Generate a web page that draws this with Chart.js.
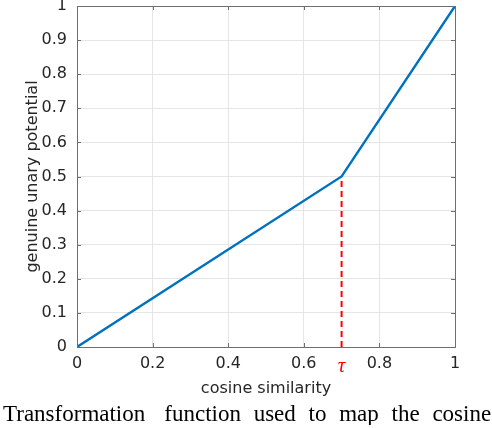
<!DOCTYPE html>
<html>
<head>
<meta charset="utf-8">
<script src="https://cdn.jsdelivr.net/npm/chart.js@4"></script>
<style>
  html, body { margin: 0; padding: 0; background: #fff; overflow: hidden; }
  #wrap { position: relative; width: 492px; height: 428px; }
  #chart { position: absolute; left: 0; top: 0; }
  #caption {
    position: absolute; left: 3px; top: 402px; width: 489px;
    font: 23px "Liberation Serif", serif; line-height: 23px;
    white-space: nowrap; overflow: hidden; color: #000; word-spacing: 7px;
  }
  #caption .first { margin-right: 19px; }
</style>
</head>
<body>
<div id="wrap">
  <canvas id="chart" width="492" height="428"></canvas>
  <div id="caption"><span class="first">Transformation</span>function used to map the cosine similarity</div>
</div>
<script>
// 曲线数据：分段线性变换
const xKnots = [0, 0.7, 1];
const yValues = [0, 0.5, 1];

// 阈值 τ 的虚线
const tauX = [0.7, 0.7];
const tauY = [0, 0.5];

// 刻度
const xTicks = [0, 0.2, 0.4, 0.6, 0.7, 0.8, 1];
const xTickLabels = ['0', '0.2', '0.4', '0.6', 'τ', '0.8', '1'];
const yTicks = [0, 0.1, 0.2, 0.3, 0.4, 0.5, 0.6, 0.7, 0.8, 0.9, 1];
const yTickLabels = ['0', '0.1', '0.2', '0.3', '0.4', '0.5', '0.6', '0.7', '0.8', '0.9', '1'];

const tauValue = 0.7;
const axisColor = '#6e6e6e';
const gridColor = '#e5e5e5';
const textColor = '#262626';
const font = { family: 'DejaVu Sans', size: 16 };

// 边框和向内的刻度线（MATLAB 风格）
const boxPlugin = {
    id: 'box',
    afterDatasetsDraw(chart) {
        const { ctx, chartArea: a, scales } = chart;
        const len = 4;
        ctx.save();
        ctx.strokeStyle = axisColor;
        ctx.lineWidth = 1;
        ctx.beginPath();
        xTicks.forEach(v => {
            if (v === tauValue) return;
            const px = Math.round(scales.x.getPixelForValue(v)) + 0.5;
            ctx.moveTo(px, a.bottom); ctx.lineTo(px, a.bottom - len);
            ctx.moveTo(px, a.top); ctx.lineTo(px, a.top + len);
        });
        yTicks.forEach(v => {
            const py = Math.round(scales.y.getPixelForValue(v)) + 0.5;
            ctx.moveTo(a.left, py); ctx.lineTo(a.left + len, py);
            ctx.moveTo(a.right, py); ctx.lineTo(a.right - len, py);
        });
        ctx.stroke();
        ctx.strokeRect(Math.round(a.left) + 0.5, Math.round(a.top) + 0.5,
            Math.round(a.right - a.left), Math.round(a.bottom - a.top));
        ctx.restore();
    }
};

new Chart(document.getElementById('chart'), {
    type: 'scatter',
    data: {
        datasets: [
            {
                data: xKnots.map((x, i) => ({ x, y: yValues[i] })),
                showLine: true,
                borderColor: '#0072BD',
                borderWidth: 2.4,
                pointRadius: 0
            },
            {
                data: tauX.map((x, i) => ({ x, y: tauY[i] })),
                showLine: true,
                borderColor: '#ff0000',
                borderWidth: 2,
                borderDash: [6, 4],
                pointRadius: 0
            }
        ]
    },
    options: {
        responsive: false,
        animation: false,
        layout: { padding: { top: 6, right: 37, left: 0, bottom: 0 } },
        plugins: { legend: { display: false }, tooltip: { enabled: false } },
        scales: {
            x: {
                type: 'linear', min: 0, max: 1,
                afterBuildTicks: s => { s.ticks = xTicks.map(v => ({ value: v })); },
                afterFit: s => { s.height = 81; s.paddingLeft = 0; s.paddingRight = 0; },
                border: { display: false },
                grid: {
                    drawTicks: false,
                    color: c => (c.tick && c.tick.value === tauValue) ? 'rgba(0,0,0,0)' : gridColor
                },
                ticks: {
                    autoSkip: false, maxRotation: 0, padding: 7,
                    callback: (v, i) => xTickLabels[i],
                    color: c => c.tick.value === tauValue ? '#ff0000' : textColor,
                    font: c => c.tick && c.tick.value === tauValue
                        ? { family: 'Liberation Serif', style: 'italic', size: 21 }
                        : font
                },
                title: {
                    display: true, text: 'cosine similarity', color: textColor, font,
                    padding: { top: 0, bottom: 30 }
                }
            },
            y: {
                type: 'linear', min: 0, max: 1,
                afterBuildTicks: s => { s.ticks = yTicks.map(v => ({ value: v })); },
                afterFit: s => { s.width = 77; s.paddingTop = 0; s.paddingBottom = 0; },
                border: { display: false },
                grid: { drawTicks: false, color: gridColor },
                ticks: {
                    autoSkip: false, padding: 10, color: textColor, font,
                    callback: (v, i) => yTickLabels[i]
                },
                title: {
                    display: true, text: 'genuine unary potential', color: textColor, font,
                    padding: { top: 23, bottom: 0 }
                }
            }
        }
    },
    plugins: [boxPlugin]
});
</script>
</body>
</html>
